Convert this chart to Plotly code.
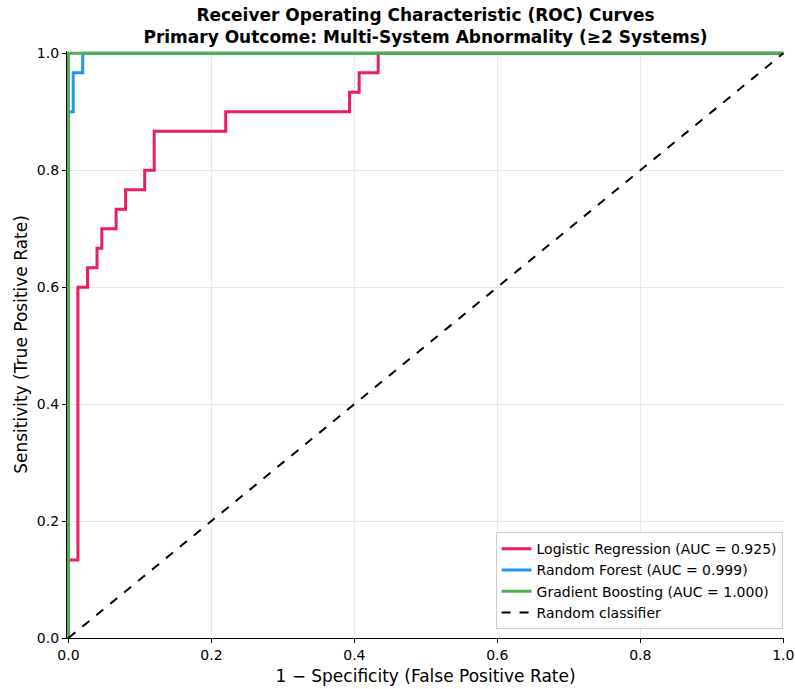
import plotly.graph_objects as go

# Data
lr_fpr = [0.0, 0.0, 0.0133, 0.0133, 0.0267, 0.0267, 0.040, 0.040, 0.0467, 0.0467, 0.0667, 0.0667,
          0.080, 0.080, 0.1067, 0.1067, 0.120, 0.120, 0.220, 0.220, 0.3933, 0.3933, 0.4067, 0.4067,
          0.4333, 0.4333, 1.0]
lr_tpr = [0.0, 0.1333, 0.1333, 0.600, 0.600, 0.6333, 0.6333, 0.6667, 0.6667, 0.700, 0.700, 0.7333,
          0.7333, 0.7667, 0.7667, 0.800, 0.800, 0.8667, 0.8667, 0.900, 0.900, 0.9333, 0.9333, 0.9667,
          0.9667, 1.0, 1.0]
rf_fpr = [0.0, 0.0, 0.0067, 0.0067, 0.020, 0.020, 1.0]
rf_tpr = [0.0, 0.900, 0.900, 0.9667, 0.9667, 1.0, 1.0]
gb_fpr = [0.0, 0.0, 1.0]
gb_tpr = [0.0, 1.0, 1.0]
diag = [0.0, 1.0]

names = ["Logistic Regression (AUC = 0.925)", "Random Forest (AUC = 0.999)",
         "Gradient Boosting (AUC = 1.000)", "Random classifier"]
colors = ["#E91E63", "#2196F3", "#4CAF50", "#000000"]
ticks = [0, 0.2, 0.4, 0.6, 0.8, 1.0]
tick_text = ["0.0", "0.2", "0.4", "0.6", "0.8", "1.0"]

FONT = "DejaVu Sans"

fig = go.Figure()
fig.add_trace(go.Scatter(x=lr_fpr, y=lr_tpr, mode="lines", name=names[0],
                         line=dict(color=colors[0], width=3)))
fig.add_trace(go.Scatter(x=rf_fpr, y=rf_tpr, mode="lines", name=names[1],
                         line=dict(color=colors[1], width=3)))
fig.add_trace(go.Scatter(x=gb_fpr, y=gb_tpr, mode="lines", name=names[2],
                         line=dict(color=colors[2], width=3)))
fig.add_trace(go.Scatter(x=diag, y=diag, mode="lines", name=names[3],
                         line=dict(color=colors[3], width=2, dash="dash")))

axis_common = dict(
    tickvals=ticks, ticktext=tick_text,
    showgrid=True, gridcolor="#e8e8e8", gridwidth=1, zeroline=False,
    showline=True, linecolor="#000000", linewidth=1.2,
    ticks="outside", ticklen=4, tickcolor="#000000", tickwidth=1,
    tickfont=dict(size=14, color="#000000"), automargin=False,
    ticklabeloverflow="allow",
)

fig.update_layout(
    width=795, height=689,
    margin=dict(l=67, r=11, t=51, b=51),
    paper_bgcolor="white", plot_bgcolor="white",
    font=dict(family=FONT, color="#000000", size=14),
    title=dict(
        text="<b>Receiver Operating Characteristic (ROC) Curves<br>Primary Outcome: Multi-System Abnormality (≥2 Systems)</b>",
        x=(67 + 784) / 2 / 795, xanchor="center", y=0.97, yanchor="top",
        font=dict(family=FONT, size=17, color="#000000"),
    ),
    xaxis=dict(range=[-0.002, 1.001],
               title=dict(text="1 − Specificity (False Positive Rate)", font=dict(size=17), standoff=8),
               **axis_common),
    yaxis=dict(range=[0, 1.004],
               title=dict(text="Sensitivity (True Positive Rate)", font=dict(size=17), standoff=4),
               **axis_common),
    legend=dict(
        x=0.998, xanchor="right", y=0.015, yanchor="bottom",
        bgcolor="rgba(255,255,255,0.9)", bordercolor="#cccccc", borderwidth=1,
        font=dict(family=FONT, size=14), tracegroupgap=0, itemwidth=30,
    ),
    showlegend=True,
)

fig.write_html("out.html")
